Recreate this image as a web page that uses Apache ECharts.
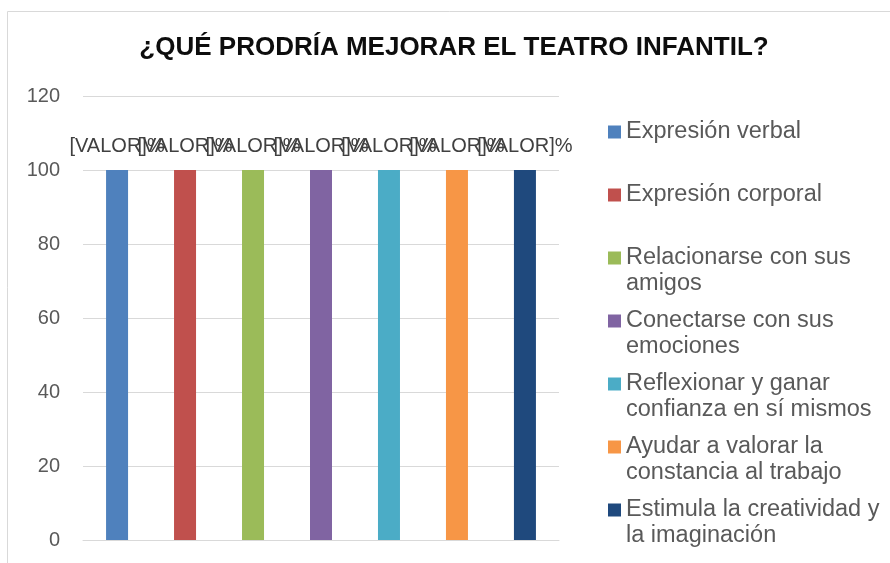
<!DOCTYPE html>
<html>
<head>
<meta charset="utf-8">
<script src="https://cdn.jsdelivr.net/npm/echarts@6/dist/echarts.min.js"></script>
<style>
  html, body {margin: 0; padding: 0; background: #fff;}
  #chart {width: 890px; height: 563px;}
</style>
</head>
<body>
<div id="chart"></div>
<script>
var series_names = ['Expresión verbal', 'Expresión corporal', 'Relacionarse con sus amigos',
    'Conectarse con sus emociones', 'Reflexionar y ganar confianza en sí mismos',
    'Ayudar a valorar la constancia al trabajo', 'Estimula la creatividad y la imaginación'];
var legend_labels = ['Expresión verbal', 'Expresión corporal', 'Relacionarse con sus\namigos',
    'Conectarse con sus\nemociones', 'Reflexionar y ganar\nconfianza en sí mismos',
    'Ayudar a valorar la\nconstancia al trabajo', 'Estimula la creatividad y\nla imaginación'];
var series_values = [100, 100, 100, 100, 100, 100, 100];
var colors = ['#4F81BD', '#C0504D', '#9BBB59', '#8064A2', '#4BACC6', '#F79646', '#1F497D'];
var y_ticks = {min: 0, max: 120, interval: 20};

var font = "'Liberation Sans', Arial, sans-serif";
var line_h = 26;

var series = series_names.map(function (name, i) {
    return {
        name: name,
        type: 'bar',
        data: [series_values[i]],
        barWidth: 22,
        barGap: '209%',
        itemStyle: {color: colors[i]},
        label: {
            show: true, position: 'top', distance: 14,
            formatter: '[VALOR]%',
            fontFamily: font, fontSize: 20, color: '#404040'
        }
    };
});

var chart = echarts.init(document.getElementById('chart'));
chart.setOption({
    animation: false,
    textStyle: {fontFamily: font},
    title: {
        text: '¿QUÉ PRODRÍA MEJORAR EL TEATRO INFANTIL?',
        left: 454, top: 35, padding: 0, textAlign: 'center',
        textStyle: {fontFamily: font, fontSize: 26, fontWeight: 'bold', color: '#0d0d0d'}
    },
    graphic: [{
        type: 'rect', shape: {x: 7.5, y: 11.5, width: 1000, height: 1000},
        style: {fill: 'none', stroke: '#d9d9d9', lineWidth: 1}, silent: true
    }],
    legend: {
        orient: 'vertical', left: 608, top: 93, padding: 0,
        itemWidth: 13, itemHeight: 13, itemGap: 63 - 3 * line_h,
        icon: 'rect',
        data: series_names,
        // three text rows per item so the first label row sits level with the marker
        formatter: function (name) {
            var txt = legend_labels[series_names.indexOf(name)];
            return txt.indexOf('\n') >= 0 ? ' \n' + txt : ' \n' + txt + '\n ';
        },
        textStyle: {fontFamily: font, fontSize: 23.5, color: '#595959', lineHeight: line_h}
    },
    grid: {left: 83, right: 331, top: 96, bottom: 23},
    xAxis: {
        type: 'category', data: [''],
        axisLine: {lineStyle: {color: '#d9d9d9'}},
        axisTick: {show: false}, axisLabel: {show: false}
    },
    yAxis: {
        type: 'value', min: y_ticks.min, max: y_ticks.max, interval: y_ticks.interval,
        axisLine: {show: false}, axisTick: {show: false},
        axisLabel: {fontFamily: font, fontSize: 20, color: '#595959', margin: 23},
        splitLine: {lineStyle: {color: '#d9d9d9'}}
    },
    series: series
});
</script>
</body>
</html>
